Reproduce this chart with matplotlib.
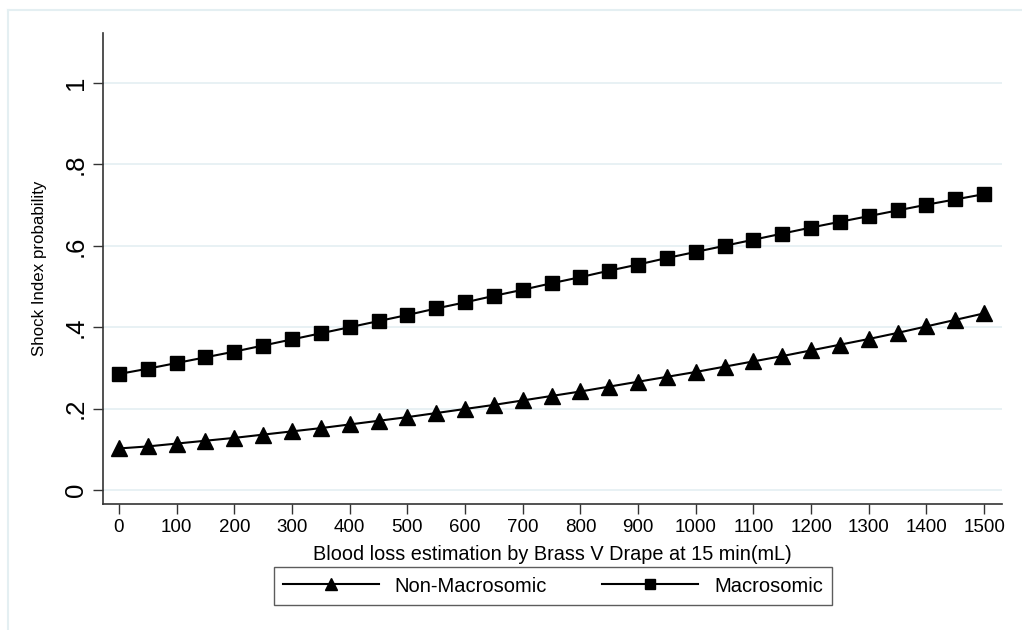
import numpy as np
import matplotlib.pyplot as plt
from matplotlib.lines import Line2D

plt.rcParams['font.family'] = ['Liberation Sans', 'DejaVu Sans']

blood_loss = list(range(0, 1501, 50))
non_macrosomic = [0.102, 0.107, 0.114, 0.121, 0.128, 0.136, 0.144, 0.152, 0.161, 0.170,
                  0.179, 0.189, 0.199, 0.209, 0.220, 0.231, 0.242, 0.254, 0.266, 0.278,
                  0.290, 0.303, 0.316, 0.329, 0.343, 0.357, 0.371, 0.386, 0.402, 0.418, 0.434]
macrosomic = [0.285, 0.298, 0.312, 0.326, 0.340, 0.355, 0.370, 0.385, 0.400, 0.415,
              0.430, 0.446, 0.461, 0.477, 0.492, 0.508, 0.523, 0.539, 0.554, 0.570,
              0.585, 0.600, 0.615, 0.630, 0.645, 0.659, 0.673, 0.687, 0.701, 0.714, 0.727]
x_ticks = list(range(0, 1501, 100))
y_ticks = [0, 0.2, 0.4, 0.6, 0.8, 1.0]
y_ticklabels = ["0", ".2", ".4", ".6", ".8", "1"]

fig = plt.figure(figsize=(10.22, 6.3), dpi=100)
# faint outer frame (left and top edges only visible)
fig.add_artist(Line2D([8/1022, 8/1022], [0, 1-10/630], color="#e4eff2", lw=1.5))
fig.add_artist(Line2D([8/1022, 1], [1-10/630, 1-10/630], color="#e4eff2", lw=1.5))

ax = fig.add_axes([103/1022, 1-504/630, (1002-103)/1022, (504-33)/630])
ax.plot(blood_loss, non_macrosomic, color="black", lw=1.5, marker="^", markersize=11.5, label="Non-Macrosomic")
ax.plot(blood_loss, macrosomic, color="black", lw=1.5, marker="s", markersize=10.5, label="Macrosomic")

ax.set_xlim(-27.7, 1531)
ax.set_ylim(-0.0345, 1.123)
ax.set_xticks(x_ticks)
ax.set_xticklabels([str(t) for t in x_ticks], fontsize=13.5)
ax.set_yticks(y_ticks)
ax.set_yticklabels(y_ticklabels, fontsize=18.5, rotation=90, va="center")
ax.tick_params(direction="out", length=7, width=1, color="#333333", pad=4)
ax.tick_params(axis="y", pad=4)
ax.grid(axis="y", color="#e4eff2", lw=1.2)
ax.set_axisbelow(True)
for s in ["top", "right"]:
    ax.spines[s].set_visible(False)
for s in ["left", "bottom"]:
    ax.spines[s].set_color("#333333")
    ax.spines[s].set_linewidth(1.2)

ax.set_xlabel("Blood loss estimation by Brass V Drape at 15 min(mL)", fontsize=14.3, labelpad=6)
ax.set_ylabel("Shock Index probability", fontsize=12.2)
ax.yaxis.set_label_coords(-0.0623, 0.5)

leg = fig.legend(loc="center", bbox_to_anchor=(553/1022, 1-586/630), ncol=2, frameon=True,
                 fancybox=False, edgecolor="#333333", fontsize=14.5, handlelength=4.75,
                 columnspacing=2.75, handletextpad=0.8, borderpad=0.45, markerscale=0.75)
leg.get_frame().set_linewidth(1.0)

plt.savefig("out.png", dpi=100)
plt.close()
